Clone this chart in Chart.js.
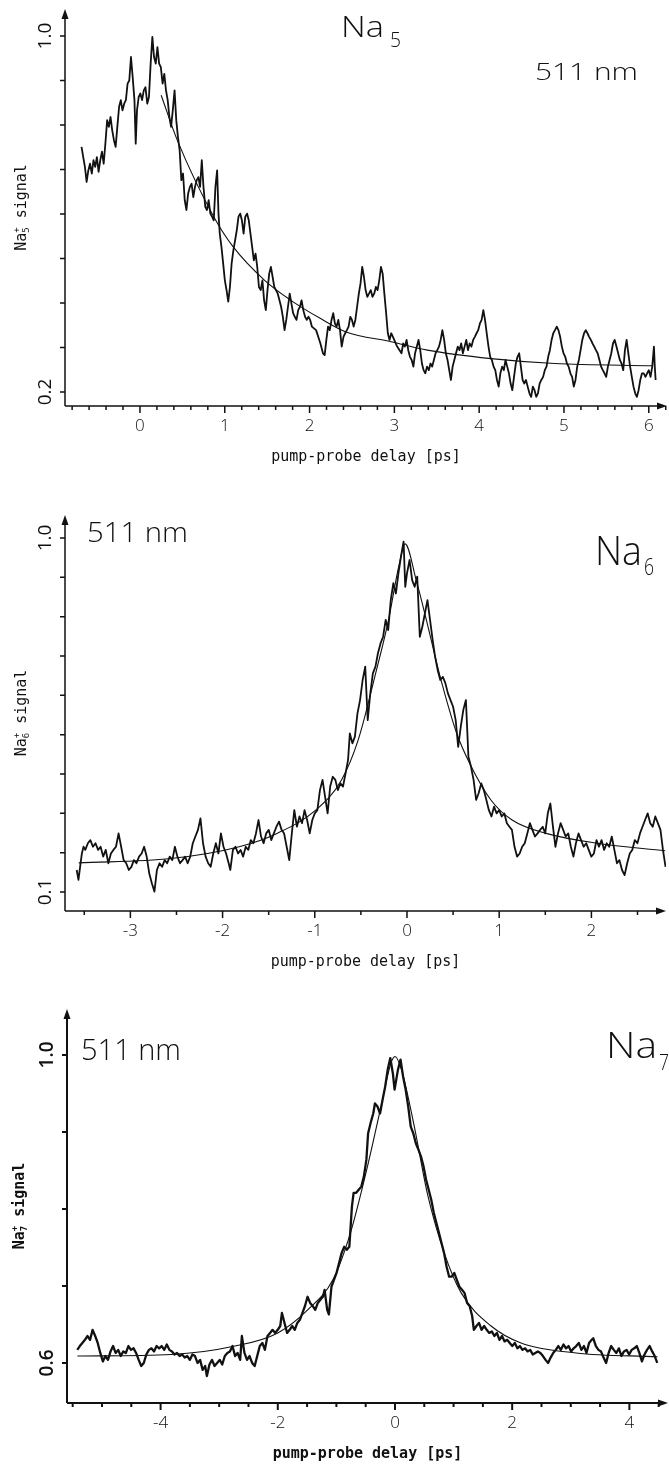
<!DOCTYPE html>
<html lang="en">
<head>
<meta charset="UTF-8" />
<title>Na5 / Na6 / Na7 pump-probe transients at 511 nm</title>
<style>
  * { box-sizing: border-box; }
  body {
    margin: 0;
    background: #fff;
    width: 669px;
    height: 1464px;
    position: relative;
    overflow: hidden;
  }
  .panel { position: absolute; left: 0; width: 669px; }
  #panel1 { top: 0; height: 470px; }
  #panel2 { top: 470px; height: 500px; }
  #panel3 { top: 970px; height: 494px; }
</style>
</head>
<body>
<div class="panel" id="panel1"><canvas id="chart1" width="669" height="470"></canvas></div>
<div class="panel" id="panel2"><canvas id="chart2" width="669" height="500"></canvas></div>
<div class="panel" id="panel3"><canvas id="chart3" width="669" height="494"></canvas></div>

<script src="https://cdn.jsdelivr.net/npm/chart.js"></script>
<script>
// ---- Na5 panel ----
const na5Delay = [
  -0.689, -0.669, -0.649, -0.629, -0.609, -0.589, -0.568, -0.548, -0.528, -0.508,
  -0.488, -0.468, -0.448, -0.428, -0.408, -0.387, -0.367, -0.347, -0.327, -0.307,
  -0.287, -0.267, -0.246, -0.226, -0.206, -0.186, -0.166, -0.146, -0.126, -0.106,
  -0.086, -0.065, -0.050, -0.035, -0.015, 0.005, 0.025, 0.045, 0.065, 0.086,
  0.106, 0.126, 0.146, 0.166, 0.186, 0.206, 0.226, 0.246, 0.267, 0.287,
  0.307, 0.327, 0.347, 0.367, 0.387, 0.408, 0.428, 0.448, 0.468, 0.488,
  0.508, 0.528, 0.548, 0.568, 0.589, 0.609, 0.629, 0.649, 0.669, 0.689,
  0.709, 0.729, 0.749, 0.770, 0.790, 0.810, 0.830, 0.850, 0.870, 0.890,
  0.910, 0.926, 0.941, 0.961, 0.981, 1.001, 1.021, 1.041, 1.061, 1.081,
  1.102, 1.122, 1.142, 1.162, 1.182, 1.202, 1.222, 1.242, 1.263, 1.283,
  1.303, 1.323, 1.343, 1.363, 1.383, 1.403, 1.424, 1.444, 1.464, 1.484,
  1.504, 1.524, 1.544, 1.564, 1.584, 1.604, 1.625, 1.645, 1.665, 1.685,
  1.705, 1.725, 1.745, 1.766, 1.786, 1.806, 1.826, 1.846, 1.866, 1.886,
  1.906, 1.926, 1.947, 1.967, 1.987, 2.007, 2.027, 2.077, 2.128, 2.158,
  2.178, 2.198, 2.218, 2.238, 2.259, 2.279, 2.299, 2.319, 2.339, 2.359,
  2.379, 2.400, 2.420, 2.440, 2.460, 2.480, 2.500, 2.520, 2.540, 2.560,
  2.581, 2.601, 2.621, 2.641, 2.661, 2.681, 2.701, 2.721, 2.742, 2.762,
  2.782, 2.802, 2.822, 2.842, 2.862, 2.882, 2.903, 2.923, 2.943, 2.963,
  2.983, 3.033, 3.084, 3.104, 3.124, 3.144, 3.164, 3.184, 3.204, 3.224,
  3.244, 3.265, 3.285, 3.305, 3.325, 3.345, 3.365, 3.385, 3.406, 3.426,
  3.446, 3.466, 3.486, 3.506, 3.526, 3.546, 3.566, 3.587, 3.607, 3.627,
  3.647, 3.667, 3.687, 3.707, 3.727, 3.748, 3.768, 3.788, 3.808, 3.828,
  3.848, 3.868, 3.888, 3.909, 3.929, 3.949, 3.969, 3.989, 4.009, 4.029,
  4.049, 4.069, 4.089, 4.110, 4.130, 4.150, 4.170, 4.190, 4.210, 4.230,
  4.250, 4.271, 4.291, 4.311, 4.331, 4.351, 4.371, 4.391, 4.411, 4.432,
  4.452, 4.472, 4.492, 4.512, 4.532, 4.552, 4.572, 4.593, 4.613, 4.633,
  4.653, 4.673, 4.693, 4.713, 4.733, 4.754, 4.774, 4.794, 4.814, 4.834,
  4.854, 4.874, 4.894, 4.915, 4.935, 4.955, 4.975, 4.995, 5.015, 5.035,
  5.055, 5.076, 5.096, 5.116, 5.136, 5.156, 5.176, 5.196, 5.216, 5.237,
  5.257, 5.277, 5.297, 5.317, 5.337, 5.357, 5.377, 5.397, 5.418, 5.438,
  5.458, 5.478, 5.498, 5.518, 5.538, 5.558, 5.578, 5.598, 5.619, 5.639,
  5.659, 5.679, 5.699, 5.719, 5.739, 5.759, 5.780, 5.800, 5.820, 5.840,
  5.860, 5.880, 5.900, 5.920, 5.941, 5.961, 5.981, 6.001, 6.021, 6.041,
  6.061, 6.071, 6.081];
const na5Signal = [
  0.751, 0.728, 0.706, 0.672, 0.698, 0.713, 0.691, 0.721, 0.706, 0.728,
  0.695, 0.721, 0.740, 0.713, 0.758, 0.811, 0.796, 0.818, 0.788, 0.766,
  0.751, 0.796, 0.841, 0.856, 0.833, 0.848, 0.856, 0.893, 0.900, 0.953,
  0.908, 0.856, 0.758, 0.833, 0.863, 0.871, 0.856, 0.878, 0.885, 0.848,
  0.863, 0.938, 0.998, 0.953, 0.938, 0.975, 0.938, 0.930, 0.893, 0.915,
  0.878, 0.856, 0.818, 0.796, 0.833, 0.878, 0.811, 0.773, 0.743, 0.676,
  0.691, 0.631, 0.609, 0.646, 0.661, 0.668, 0.638, 0.661, 0.676, 0.683,
  0.661, 0.721, 0.661, 0.616, 0.609, 0.631, 0.601, 0.594, 0.586, 0.661,
  0.698, 0.601, 0.556, 0.526, 0.489, 0.451, 0.429, 0.403, 0.436, 0.489,
  0.519, 0.541, 0.564, 0.594, 0.601, 0.586, 0.556, 0.594, 0.601, 0.586,
  0.556, 0.526, 0.496, 0.511, 0.481, 0.436, 0.429, 0.451, 0.406, 0.384,
  0.429, 0.466, 0.481, 0.459, 0.436, 0.429, 0.421, 0.406, 0.391, 0.369,
  0.339, 0.362, 0.391, 0.421, 0.399, 0.377, 0.369, 0.362, 0.384, 0.391,
  0.406, 0.384, 0.369, 0.362, 0.369, 0.362, 0.347, 0.339, 0.309, 0.287,
  0.283, 0.317, 0.347, 0.339, 0.362, 0.377, 0.354, 0.347, 0.362, 0.339,
  0.302, 0.324, 0.332, 0.339, 0.347, 0.369, 0.362, 0.347, 0.362, 0.391,
  0.421, 0.444, 0.481, 0.459, 0.429, 0.414, 0.421, 0.429, 0.414, 0.421,
  0.436, 0.429, 0.451, 0.481, 0.466, 0.421, 0.377, 0.332, 0.317, 0.332,
  0.324, 0.302, 0.287, 0.309, 0.302, 0.317, 0.294, 0.279, 0.272, 0.257,
  0.287, 0.302, 0.317, 0.294, 0.264, 0.249, 0.242, 0.257, 0.249, 0.264,
  0.257, 0.272, 0.287, 0.294, 0.302, 0.317, 0.339, 0.317, 0.287, 0.272,
  0.249, 0.227, 0.257, 0.272, 0.287, 0.302, 0.294, 0.309, 0.287, 0.302,
  0.317, 0.294, 0.309, 0.302, 0.317, 0.324, 0.332, 0.339, 0.354, 0.362,
  0.384, 0.362, 0.332, 0.302, 0.279, 0.272, 0.257, 0.249, 0.227, 0.212,
  0.242, 0.257, 0.249, 0.272, 0.257, 0.242, 0.219, 0.204, 0.234, 0.264,
  0.279, 0.287, 0.257, 0.227, 0.219, 0.227, 0.212, 0.197, 0.189, 0.212,
  0.204, 0.189, 0.197, 0.219, 0.227, 0.234, 0.249, 0.257, 0.279, 0.294,
  0.317, 0.332, 0.339, 0.347, 0.339, 0.324, 0.302, 0.287, 0.279, 0.264,
  0.257, 0.242, 0.234, 0.212, 0.227, 0.257, 0.272, 0.294, 0.317, 0.332,
  0.339, 0.332, 0.324, 0.317, 0.309, 0.302, 0.294, 0.287, 0.272, 0.257,
  0.249, 0.242, 0.234, 0.257, 0.272, 0.287, 0.309, 0.317, 0.302, 0.287,
  0.272, 0.264, 0.249, 0.294, 0.317, 0.287, 0.257, 0.234, 0.212, 0.197,
  0.189, 0.204, 0.227, 0.242, 0.242, 0.234, 0.242, 0.249, 0.234, 0.257,
  0.302, 0.257, 0.227];
const na5FitDelay  = [0.25, 0.44, 0.87, 1.10, 1.47, 1.78, 2.13, 2.43, 2.96, 3.39, 4.14, 4.89, 6.05];
const na5FitSignal = [0.867, 0.766, 0.594, 0.526, 0.451, 0.406, 0.365, 0.335, 0.313, 0.294, 0.275, 0.264, 0.259];
const na5XLabels = [0, 1, 2, 3, 4, 5, 6];
const na5YTicks = [0.2, 0.3, 0.4, 0.5, 0.6, 0.7, 0.8, 0.9, 1.0];
const na5YLabels = ['1.0', '0.2'];

// ---- Na6 panel ----
const na6Delay = [
  -3.582, -3.563, -3.545, -3.526, -3.508, -3.489, -3.461, -3.434, -3.406, -3.378,
  -3.350, -3.323, -3.295, -3.267, -3.239, -3.211, -3.184, -3.156, -3.128, -3.100,
  -3.073, -3.045, -3.017, -2.989, -2.962, -2.934, -2.906, -2.878, -2.851, -2.823,
  -2.795, -2.767, -2.739, -2.712, -2.684, -2.656, -2.628, -2.601, -2.573, -2.545,
  -2.517, -2.490, -2.462, -2.434, -2.406, -2.379, -2.351, -2.323, -2.295, -2.267,
  -2.240, -2.212, -2.184, -2.156, -2.129, -2.101, -2.073, -2.045, -2.018, -1.990,
  -1.962, -1.934, -1.916, -1.888, -1.860, -1.832, -1.805, -1.777, -1.749, -1.721,
  -1.694, -1.666, -1.638, -1.610, -1.583, -1.555, -1.527, -1.499, -1.472, -1.444,
  -1.416, -1.388, -1.360, -1.333, -1.305, -1.277, -1.249, -1.222, -1.194, -1.166,
  -1.138, -1.111, -1.083, -1.055, -1.027, -1.000, -0.972, -0.944, -0.916, -0.888,
  -0.861, -0.833, -0.805, -0.777, -0.750, -0.722, -0.694, -0.666, -0.639, -0.620,
  -0.592, -0.565, -0.537, -0.509, -0.481, -0.453, -0.426, -0.398, -0.370, -0.342,
  -0.315, -0.287, -0.259, -0.231, -0.204, -0.176, -0.148, -0.120, -0.093, -0.065,
  -0.037, -0.019, 0.000, 0.028, 0.056, 0.083, 0.111, 0.139, 0.167, 0.194,
  0.222, 0.250, 0.278, 0.305, 0.333, 0.361, 0.389, 0.416, 0.444, 0.472,
  0.500, 0.528, 0.555, 0.583, 0.611, 0.639, 0.666, 0.694, 0.722, 0.750,
  0.777, 0.805, 0.833, 0.861, 0.888, 0.916, 0.944, 0.972, 1.000, 1.027,
  1.055, 1.083, 1.111, 1.138, 1.166, 1.194, 1.222, 1.249, 1.277, 1.305,
  1.333, 1.360, 1.388, 1.416, 1.444, 1.472, 1.499, 1.527, 1.555, 1.583,
  1.610, 1.638, 1.666, 1.694, 1.721, 1.749, 1.777, 1.805, 1.832, 1.860,
  1.888, 1.916, 1.944, 1.971, 1.999, 2.027, 2.055, 2.082, 2.110, 2.138,
  2.166, 2.193, 2.221, 2.249, 2.277, 2.304, 2.332, 2.360, 2.388, 2.416,
  2.443, 2.471, 2.499, 2.527, 2.554, 2.582, 2.610, 2.638, 2.665, 2.693,
  2.721, 2.749, 2.776, 2.804];
const na6Signal = [
  0.156, 0.131, 0.164, 0.198, 0.215, 0.207, 0.224, 0.232, 0.215, 0.224,
  0.207, 0.215, 0.190, 0.207, 0.173, 0.198, 0.207, 0.215, 0.249, 0.215,
  0.181, 0.173, 0.156, 0.164, 0.181, 0.173, 0.190, 0.198, 0.215, 0.190,
  0.147, 0.122, 0.101, 0.156, 0.173, 0.164, 0.181, 0.173, 0.190, 0.181,
  0.215, 0.190, 0.173, 0.181, 0.190, 0.173, 0.190, 0.224, 0.241, 0.258,
  0.287, 0.224, 0.190, 0.173, 0.164, 0.198, 0.224, 0.198, 0.249, 0.215,
  0.198, 0.173, 0.156, 0.207, 0.215, 0.198, 0.207, 0.190, 0.215, 0.207,
  0.232, 0.224, 0.249, 0.283, 0.241, 0.224, 0.249, 0.258, 0.232, 0.249,
  0.266, 0.279, 0.258, 0.249, 0.215, 0.181, 0.249, 0.308, 0.266, 0.292,
  0.275, 0.308, 0.283, 0.249, 0.283, 0.300, 0.308, 0.359, 0.385, 0.342,
  0.300, 0.368, 0.393, 0.385, 0.359, 0.376, 0.368, 0.402, 0.436, 0.503,
  0.478, 0.495, 0.554, 0.588, 0.639, 0.673, 0.537, 0.605, 0.656, 0.673,
  0.707, 0.732, 0.749, 0.792, 0.766, 0.842, 0.885, 0.859, 0.910, 0.953,
  0.991, 0.876, 0.910, 0.944, 0.893, 0.876, 0.902, 0.749, 0.775, 0.808,
  0.842, 0.792, 0.741, 0.698, 0.664, 0.639, 0.647, 0.631, 0.605, 0.588,
  0.571, 0.537, 0.469, 0.520, 0.563, 0.588, 0.444, 0.419, 0.385, 0.334,
  0.351, 0.376, 0.359, 0.334, 0.308, 0.292, 0.317, 0.300, 0.308, 0.292,
  0.300, 0.275, 0.266, 0.258, 0.215, 0.190, 0.198, 0.215, 0.224, 0.249,
  0.275, 0.258, 0.241, 0.249, 0.258, 0.266, 0.249, 0.300, 0.325, 0.266,
  0.215, 0.249, 0.275, 0.258, 0.241, 0.249, 0.215, 0.190, 0.224, 0.249,
  0.232, 0.215, 0.224, 0.207, 0.190, 0.198, 0.232, 0.215, 0.232, 0.207,
  0.224, 0.215, 0.241, 0.207, 0.173, 0.181, 0.156, 0.143, 0.173, 0.198,
  0.207, 0.232, 0.224, 0.249, 0.266, 0.283, 0.300, 0.275, 0.266, 0.292,
  0.275, 0.258, 0.207, 0.164];
const na6FitDelay  = [-3.56, -2.56, -1.82, -1.41, -0.99, -0.71, -0.53, -0.34, -0.20, -0.09, -0.02, 0.10, 0.21, 0.35, 0.54, 0.68, 0.91, 1.14, 1.51, 2.06, 2.80];
const na6FitSignal = [0.174, 0.185, 0.215, 0.249, 0.308, 0.385, 0.486, 0.656, 0.792, 0.927, 0.985, 0.893, 0.792, 0.656, 0.503, 0.427, 0.334, 0.283, 0.249, 0.224, 0.205];
const na6XLabels = [-3, -2, -1, 0, 1, 2];
const na6YTicks = [0.1, 0.2, 0.3, 0.4, 0.5, 0.6, 0.7, 0.8, 0.9, 1.0];
const na6YLabels = ['1.0', '0.1'];

// ---- Na7 panel ----
const na7Delay = [
  -5.422, -5.378, -5.335, -5.291, -5.247, -5.204, -5.160, -5.116, -5.073, -5.029,
  -4.985, -4.942, -4.898, -4.854, -4.811, -4.767, -4.723, -4.680, -4.636, -4.592,
  -4.549, -4.505, -4.461, -4.418, -4.374, -4.330, -4.287, -4.243, -4.199, -4.156,
  -4.112, -4.068, -4.025, -3.981, -3.937, -3.894, -3.850, -3.806, -3.763, -3.719,
  -3.675, -3.632, -3.588, -3.544, -3.501, -3.457, -3.413, -3.370, -3.326, -3.282,
  -3.239, -3.210, -3.166, -3.122, -3.079, -3.035, -2.991, -2.948, -2.904, -2.860,
  -2.817, -2.773, -2.729, -2.686, -2.642, -2.613, -2.569, -2.525, -2.482, -2.438,
  -2.394, -2.351, -2.307, -2.263, -2.220, -2.176, -2.132, -2.089, -2.045, -2.001,
  -1.958, -1.929, -1.885, -1.841, -1.798, -1.754, -1.710, -1.667, -1.623, -1.579,
  -1.536, -1.492, -1.448, -1.405, -1.361, -1.317, -1.274, -1.230, -1.201, -1.157,
  -1.128, -1.084, -1.041, -0.997, -0.953, -0.910, -0.866, -0.822, -0.779, -0.735,
  -0.706, -0.662, -0.619, -0.575, -0.531, -0.488, -0.459, -0.415, -0.371, -0.342,
  -0.298, -0.255, -0.211, -0.167, -0.124, -0.080, -0.036, -0.007, 0.022, 0.051,
  0.095, 0.138, 0.182, 0.226, 0.269, 0.313, 0.357, 0.400, 0.444, 0.488,
  0.531, 0.575, 0.619, 0.662, 0.706, 0.750, 0.793, 0.837, 0.881, 0.924,
  0.968, 1.012, 1.055, 1.099, 1.143, 1.186, 1.230, 1.274, 1.317, 1.346,
  1.390, 1.434, 1.477, 1.521, 1.565, 1.608, 1.652, 1.696, 1.739, 1.783,
  1.827, 1.870, 1.914, 1.958, 2.001, 2.045, 2.089, 2.132, 2.176, 2.220,
  2.263, 2.307, 2.351, 2.394, 2.438, 2.482, 2.525, 2.569, 2.613, 2.656,
  2.700, 2.744, 2.787, 2.831, 2.875, 2.918, 2.962, 3.006, 3.049, 3.093,
  3.137, 3.181, 3.224, 3.268, 3.312, 3.355, 3.384, 3.428, 3.472, 3.515,
  3.559, 3.603, 3.646, 3.690, 3.734, 3.777, 3.821, 3.865, 3.908, 3.952,
  3.996, 4.039, 4.083, 4.127, 4.170, 4.214, 4.258, 4.301, 4.345, 4.389,
  4.432, 4.476];
const na7Signal = [
  0.617, 0.622, 0.626, 0.630, 0.635, 0.630, 0.643, 0.635, 0.626, 0.613,
  0.602, 0.609, 0.604, 0.615, 0.622, 0.613, 0.617, 0.609, 0.615, 0.613,
  0.622, 0.617, 0.619, 0.613, 0.604, 0.596, 0.600, 0.611, 0.617, 0.619,
  0.615, 0.622, 0.619, 0.622, 0.617, 0.624, 0.617, 0.615, 0.611, 0.613,
  0.609, 0.611, 0.607, 0.609, 0.604, 0.611, 0.609, 0.600, 0.604, 0.591,
  0.596, 0.583, 0.598, 0.604, 0.596, 0.600, 0.604, 0.598, 0.609, 0.613,
  0.615, 0.622, 0.609, 0.613, 0.604, 0.635, 0.613, 0.604, 0.609, 0.600,
  0.596, 0.609, 0.622, 0.626, 0.617, 0.635, 0.639, 0.643, 0.639, 0.643,
  0.648, 0.665, 0.652, 0.639, 0.643, 0.648, 0.643, 0.652, 0.656, 0.665,
  0.674, 0.686, 0.678, 0.674, 0.669, 0.678, 0.682, 0.686, 0.695, 0.669,
  0.663, 0.699, 0.708, 0.717, 0.730, 0.743, 0.751, 0.747, 0.751, 0.803,
  0.821, 0.821, 0.825, 0.829, 0.842, 0.864, 0.898, 0.912, 0.924, 0.937,
  0.933, 0.924, 0.942, 0.959, 0.981, 0.996, 0.976, 0.955, 0.968, 0.981,
  0.994, 0.972, 0.955, 0.933, 0.907, 0.898, 0.885, 0.877, 0.868, 0.855,
  0.838, 0.825, 0.812, 0.795, 0.782, 0.769, 0.756, 0.743, 0.725, 0.712,
  0.712, 0.717, 0.708, 0.699, 0.695, 0.691, 0.678, 0.674, 0.661, 0.643,
  0.648, 0.652, 0.643, 0.648, 0.643, 0.639, 0.641, 0.635, 0.639, 0.630,
  0.635, 0.628, 0.630, 0.626, 0.622, 0.626, 0.619, 0.622, 0.617, 0.619,
  0.615, 0.617, 0.611, 0.613, 0.615, 0.613, 0.609, 0.604, 0.600, 0.607,
  0.613, 0.617, 0.622, 0.617, 0.624, 0.619, 0.622, 0.615, 0.619, 0.622,
  0.626, 0.617, 0.622, 0.613, 0.626, 0.630, 0.632, 0.622, 0.617, 0.615,
  0.607, 0.600, 0.613, 0.622, 0.617, 0.613, 0.619, 0.609, 0.615, 0.617,
  0.611, 0.617, 0.619, 0.622, 0.613, 0.602, 0.611, 0.617, 0.622, 0.615,
  0.609, 0.600];
const na7FitDelay  = [-5.42, -3.82, -2.73, -2.00, -1.49, -1.06, -0.76, -0.47, -0.25, -0.07, 0.00, 0.11, 0.33, 0.55, 0.84, 1.13, 1.64, 2.15, 3.09, 4.48];
const na7FitSignal = [0.609, 0.611, 0.622, 0.639, 0.669, 0.708, 0.769, 0.855, 0.929, 0.989, 0.998, 0.981, 0.907, 0.821, 0.743, 0.691, 0.648, 0.626, 0.613, 0.608];
const na7XLabels = [-4, -2, 0, 2, 4];
const na7YTicks = [0.6, 0.7, 0.8, 0.9, 1.0];
const na7YLabels = ['1.0', '0.6'];

const INK = '#111';
const PLOTTER = '"Open Sans", "Lato", "Liberation Sans Narrow", sans-serif';
const MONO = '"DejaVu Sans Mono", "Liberation Mono", monospace';

function toPoints(xs, ys) {
  return xs.map((x, i) => ({ x: x, y: ys[i] }));
}

// draws text squeezed to a target width (the scan uses a tall, thin plotter font)
function fitText(ctx, text, x, y, size, width, weight) {
  ctx.save();
  ctx.font = (weight || '300') + ' ' + size + 'px ' + PLOTTER;
  const w = ctx.measureText(text).width;
  ctx.translate(x, y);
  ctx.scale(width / w, 1);
  ctx.textAlign = 'left';
  ctx.textBaseline = 'alphabetic';
  ctx.fillText(text, 0, 0);
  ctx.restore();
}

// plotter style axes: arrows, outward ticks, rotated y labels, annotations
const plotterAxes = {
  id: 'plotterAxes',
  afterDraw(chart, args, o) {
    const { ctx, chartArea: a, scales: { x, y } } = chart;
    ctx.save();
    ctx.strokeStyle = INK;
    ctx.fillStyle = INK;
    ctx.lineWidth = o.bold ? 2 : 1.5;

    ctx.beginPath();
    ctx.moveTo(a.left, a.bottom); ctx.lineTo(a.left, a.top + 4);
    ctx.moveTo(a.left, a.bottom); ctx.lineTo(a.right - 4, a.bottom);
    ctx.stroke();
    ctx.beginPath();
    ctx.moveTo(a.left, a.top); ctx.lineTo(a.left - 3.5, a.top + 10); ctx.lineTo(a.left + 3.5, a.top + 10);
    ctx.closePath(); ctx.fill();
    ctx.beginPath();
    ctx.moveTo(a.right, a.bottom); ctx.lineTo(a.right - 10, a.bottom - 3.5); ctx.lineTo(a.right - 10, a.bottom + 3.5);
    ctx.closePath(); ctx.fill();

    // y ticks + labels
    ctx.beginPath();
    o.yTicks.forEach(v => {
      const py = y.getPixelForValue(v);
      ctx.moveTo(a.left - 5, py); ctx.lineTo(a.left, py);
    });
    ctx.stroke();
    ctx.font = (o.bold ? '600 ' : '400 ') + '19px ' + PLOTTER;
    ctx.textAlign = 'center';
    ctx.textBaseline = 'middle';
    o.yLabels.forEach(t => {
      ctx.save();
      ctx.translate(a.left - 19, y.getPixelForValue(parseFloat(t)));
      ctx.rotate(-Math.PI / 2);
      ctx.fillText(t, 0, 0);
      ctx.restore();
    });

    // x ticks: minor every step, major at labelled values
    ctx.beginPath();
    for (let v = Math.ceil(x.min / o.xStep) * o.xStep; v <= x.max; v += o.xStep) {
      const px = x.getPixelForValue(v);
      ctx.moveTo(px, a.bottom); ctx.lineTo(px, a.bottom + 4);
    }
    o.xLabels.forEach(v => {
      const px = x.getPixelForValue(v);
      ctx.moveTo(px, a.bottom); ctx.lineTo(px, a.bottom + 7);
    });
    ctx.stroke();
    ctx.font = '300 17px ' + PLOTTER;
    o.xLabels.forEach(v => {
      ctx.fillText(v < 0 ? '-' + Math.abs(v) : String(v), x.getPixelForValue(v), a.bottom + 20);
    });

    // axis title
    ctx.font = (o.bold ? 'bold ' : '') + '15px ' + MONO;
    ctx.fillText('pump-probe delay [ps]', (a.left + a.right) / 2, a.bottom + 51);

    // y title: Na(+ over n) signal, rotated
    ctx.save();
    ctx.translate(o.yTitleX, (a.top + a.bottom) / 2);
    ctx.rotate(-Math.PI / 2);
    ctx.textAlign = 'left';
    ctx.textBaseline = 'middle';
    const big = (o.bold ? 'bold ' : '') + '15px ' + MONO;
    const small = (o.bold ? 'bold ' : '') + '9px ' + MONO;
    ctx.font = big;
    const wNa = ctx.measureText('Na').width;
    const wSig = ctx.measureText(' signal').width;
    ctx.font = small;
    const wSm = ctx.measureText('+').width;
    let cx = -(wNa + wSm + wSig) / 2;
    ctx.font = big; ctx.fillText('Na', cx, 0); cx += wNa;
    ctx.font = small; ctx.fillText('+', cx, -5); ctx.fillText(o.n, cx, 5); cx += wSm;
    ctx.font = big; ctx.fillText(' signal', cx, 0);
    ctx.restore();

    // annotations
    o.notes.forEach(n => fitText(ctx, n.text, n.x, n.y, n.size, n.width));
    ctx.restore();
  }
};

function makePanel(id, trace, fit, xr, yr, pad, axes) {
  return new Chart(document.getElementById(id), {
    type: 'line',
    data: {
      datasets: [
        {
          data: trace,
          borderColor: INK,
          borderWidth: axes.bold ? 2.3 : 1.8,
          pointRadius: 0,
          tension: 0,
          borderJoinStyle: 'round'
        },
        {
          data: fit,
          borderColor: INK,
          borderWidth: 1.1,
          pointRadius: 0,
          cubicInterpolationMode: 'monotone'
        }
      ]
    },
    options: {
      responsive: false,
      animation: false,
      devicePixelRatio: 1,
      layout: { padding: pad },
      plugins: {
        legend: { display: false },
        tooltip: { enabled: false },
        plotterAxes: axes
      },
      scales: {
        x: { type: 'linear', min: xr[0], max: xr[1], display: false },
        y: { type: 'linear', min: yr[0], max: yr[1], display: false }
      }
    },
    plugins: [plotterAxes]
  });
}

makePanel('chart1',
  toPoints(na5Delay, na5Signal), toPoints(na5FitDelay, na5FitSignal),
  [-0.884, 6.215], [0.1685, 1.0608],
  { left: 65, right: 2, top: 9, bottom: 64 },
  {
    yTicks: na5YTicks, yLabels: na5YLabels, xLabels: na5XLabels, xStep: 0.2,
    n: '5', yTitleX: 22, bold: false,
    notes: [
      { text: 'Na', x: 341, y: 37, size: 30, width: 43 },
      { text: '5', x: 390, y: 47, size: 20, width: 11 },
      { text: '511 nm', x: 535, y: 80, size: 24, width: 103 }
    ]
  });

makePanel('chart2',
  toPoints(na6Delay, na6Signal), toPoints(na6FitDelay, na6FitSignal),
  [-3.709, 2.809], [0.0517, 1.0585],
  { left: 65, right: 3, top: 45, bottom: 59 },
  {
    yTicks: na6YTicks, yLabels: na6YLabels, xLabels: na6XLabels, xStep: 0.5,
    n: '6', yTitleX: 22, bold: false,
    notes: [
      { text: '511 nm', x: 87, y: 72, size: 27, width: 101 },
      { text: 'Na', x: 595, y: 95, size: 40, width: 47 },
      { text: '6', x: 644, y: 105, size: 23, width: 10 }
    ]
  });

makePanel('chart3',
  toPoints(na7Delay, na7Signal), toPoints(na7FitDelay, na7FitSignal),
  [-5.597, 4.659], [0.548, 1.0597],
  { left: 67, right: 1, top: 39, bottom: 61 },
  {
    yTicks: na7YTicks, yLabels: na7YLabels, xLabels: na7XLabels, xStep: 0.5,
    n: '7', yTitleX: 20, bold: true,
    notes: [
      { text: '511 nm', x: 81, y: 90, size: 30, width: 100 },
      { text: 'Na', x: 606, y: 88, size: 36, width: 51 },
      { text: '7', x: 659, y: 100, size: 22, width: 10 }
    ]
  });
</script>
</body>
</html>
